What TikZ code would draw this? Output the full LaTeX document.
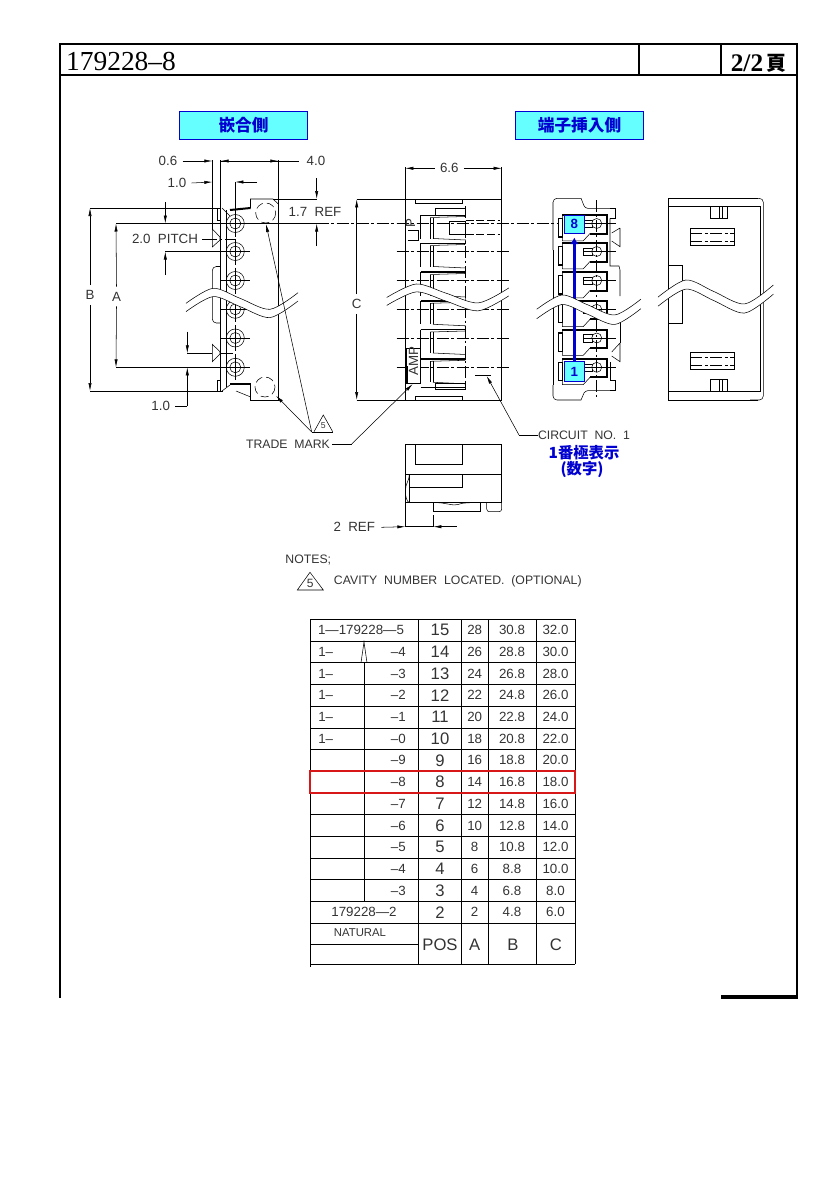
\documentclass[tikz,border=0pt]{standalone}
\usepackage{fontspec}
\usetikzlibrary{arrows.meta,calc}
\setmainfont{Liberation Sans}
\newfontfamily\titlefont{Liberation Serif}
\newfontfamily\cjkfont{Noto Sans CJK JP}
\definecolor{headcyan}{HTML}{66FFFF}
\definecolor{inkblue}{HTML}{0000D0}
\definecolor{markred}{HTML}{D81818}
\definecolor{inkgray}{gray}{0.2}
\newcommand{\breakwave}[5]{%
  \begin{scope}[shift={(#1,#2)},xscale=#3,yscale=#4]
    \fill[white] plot[smooth] coordinates {(0,15) (27,0) (54,10) (84,21) (112,4.4)}
      -- plot[smooth] coordinates {(112,4.4+#5) (84,21+#5) (54,10+#5) (27,0+#5) (0,15+#5)} -- cycle;
    \draw plot[smooth] coordinates {(0,15) (27,0) (54,10) (84,21) (112,4.4)};
    \draw plot[smooth] coordinates {(0,15+#5) (27,0+#5) (54,10+#5) (84,21+#5) (112,4.4+#5)};
  \end{scope}}
\tikzset{
  line width=0.7pt,
  >={Latex[length=6pt,width=2.4pt]},
  cline/.style={line width=0.6pt,dash pattern=on 9pt off 2pt on 2pt off 2pt},
  hvy/.style={line width=1.5pt},
  dimtext/.style={inner sep=0pt,text=inkgray,font=\fontsize{10}{12}\selectfont},
  longtext/.style={inner sep=0pt,text=inkgray,font=\fontsize{9.2}{11}\selectfont},
  cell/.style={inner sep=0pt,text=inkgray,font=\fontsize{10}{12}\selectfont},
  bigcell/.style={inner sep=0pt,text=inkgray,font=\fontsize{12.5}{14}\selectfont},
  headbox/.style={draw=inkblue,fill=headcyan,minimum width=96pt,minimum height=21pt,inner sep=0pt,
    text=inkblue,font=\cjkfont\bfseries\fontsize{12.5}{14}\selectfont},
  bluetext/.style={inner sep=0pt,text=inkblue,font=\cjkfont\bfseries\fontsize{11.5}{13}\selectfont},
  pitchbox/.style={draw=inkblue,fill=headcyan,inner sep=0pt,minimum width=15pt,minimum height=13.5pt,
    text=inkblue,font=\bfseries\fontsize{10}{12}\selectfont}
}
\begin{document}
\begin{tikzpicture}[x=0.75pt,y=-0.75pt]
  \useasboundingbox (0,0) rectangle (835,1181);

  \draw[hvy] (60,998) -- (60,44) -- (797,44) -- (797,998);
  \draw[hvy] (60,75.5) -- (797,75.5);
  \draw[line width=1.2pt] (639,44) -- (639,75.5);
  \draw[line width=1.2pt] (721,44) -- (721,75.5);
  \fill (721,995) rectangle (798,998.5);
  \node[inner sep=0pt,font=\titlefont\fontsize{20.6}{24}\selectfont] (title) at (121,61.5) {179228–8};
  \node[inner sep=0pt,font=\titlefont\bfseries\fontsize{19}{22}\selectfont] (page) at (747,63) {2/2};
  \node[inner sep=0pt,font=\cjkfont\bfseries\fontsize{15}{18}\selectfont] (pageword) at (776,63) {頁};

  \node[headbox] (headfit) at (243.5,125) {嵌合側};
  \node[headbox] (headins) at (579.5,125) {端子挿入側};

  \foreach \c in {223.5,251.5,280.5,309.3,338,367.3} {
    \draw (221,\c) -- (250,\c);
    \draw (235.3,\c-13) -- (235.3,\c+13);
    \draw (235.3,\c) circle (9);
    \draw (235.3,\c) circle (5.5);
    \fill (235.3,\c) circle (0.8);
  }
  \draw (212.3,160) -- (212.3,229);
  \draw (220.7,160) -- (220.7,391);
  \draw (226,210) -- (226,387);
  \draw (278.3,160) -- (278.3,400.7);
  \draw (235.3,182) -- (235.3,214);
  \draw (212.3,229) -- (220,237) -- (220,240) -- (212.3,247) -- cycle;
  \draw (212.3,344.3) -- (220,351.7) -- (220,354) -- (212.3,361.7) -- cycle;
  \draw[rounded corners=3pt] (220.7,266.5) -- (212.3,266.5) -- (212.3,323) -- (220.7,323);
  \draw[cline] (205,239) -- (235.3,239);
  \draw[cline] (220.7,353.3) -- (235.3,353.3);
  \draw (217.3,208) rectangle (220.7,220);
  \draw (217.3,380.7) rectangle (220.7,391);
  \draw (222,208) -- (230,216);
  \draw (222,391) -- (230,385);
  \draw[hvy] (230,210) -- (250.5,208);
  \draw (250.5,208) -- (250.5,199) -- (273,199) -- (278.3,204);
  \draw[hvy] (230,384.3) -- (250.7,384.3);
  \draw (250.7,384.3) -- (250.7,400.7) -- (278.3,400.7);
  \draw (236,391) -- (250.7,397);
  \draw[dash pattern=on 6pt off 3pt] (265.7,213) circle (10);
  \draw[dash pattern=on 6pt off 3pt] (265,387) circle (10);

  \node[dimtext] (dimzerosix) at (168,161) {0.6};
  \node[dimtext] (dimfour) at (316,161) {4.0};
  \node[dimtext] (dimonetop) at (177,183) {1.0};
  \node[dimtext] (dimonelow) at (160.7,406) {1.0};
  \node[dimtext] (dimpitch) at (165,239) {2.0\ \ PITCH};
  \node[dimtext] (dimref) at (315,212) {1.7\ \ REF};
  \node[dimtext] (dimb) at (90,295) {B};
  \node[dimtext] (dima) at (116.5,296.5) {A};
  \draw[->] (dimzerosix.east)++(5,0) -- (212.3,161);
  \draw[->] (278.3,161) -- (220.7,161);
  \draw[->] (220.7,161) -- (278.3,161);
  \draw (278.3,161) -- (299,161);
  \draw[->] (dimonetop.east)++(5,0) -- (212.3,182);
  \draw[->] (257,182) -- (235.3,182);
  \draw (208,239) -- (202,239);
  \draw[->] (165.3,202) -- (165.3,223.5);
  \draw[->] (165.3,275) -- (165.3,251.5);
  \draw (165.3,251.5) -- (226,251.5);
  \draw (273,199) -- (316.7,199);
  \draw[->] (316.7,178) -- (316.7,199);
  \draw[->] (316.7,246) -- (316.7,223.5);
  \draw (116,223.5) -- (316.7,223.5);
  \draw[cline] (316.7,223.5) -- (560,223.5);
  \draw (90,208) -- (221,208);
  \draw (90,391) -- (223,391);
  \draw (116,367.3) -- (226,367.3);
  \draw (187.3,353.3) -- (212,353.3);
  \draw[->] (dimb.north)++(0,-5) -- (90,208);
  \draw[->] (dimb.south)++(0,5) -- (90,391);
  \draw[->] (dima.north)++(0,-5) -- (116,223.5);
  \draw[->] (dima.south)++(0,5) -- (116,367.3);
  \draw[->] (187.3,331.7) -- (187.3,353.3);
  \draw[->] (187.3,406) -- (187.3,367.3);
  \draw (dimonelow.east)++(5,0) -- (187.3,406);
  \breakwave{186}{288.3}{1}{1}{8.3}

  \draw (405.3,167) -- (405.3,400) -- (501.7,400) -- (501.7,167);
  \draw (356.7,199.3) -- (501.7,199.3);
  \draw (356.7,400) -- (405.3,400);
  \draw (415,199.3) rectangle (462.7,203.3);
  \draw (415,396.7) rectangle (462.7,400);
  \draw (435,208.5) rectangle (465.7,215.5);
  \draw (435,383.3) rectangle (465.7,389.5);
  \foreach \c in {223.5,251.5,280.5,309.3,338,367.3} {
    \draw (420.7,\c-8.3) -- (420.7,\c+15);
    \draw (420.7,\c-8.3) -- (465.7,\c-8.3);
    \draw (430.3,\c-6) -- (430.3,\c+15);
    \draw (433,\c-6) -- (433,\c+15);
    \draw (430.3,\c-6) -- (465,\c-7);
    \draw (433,\c+15) -- (465.7,\c+16.5) -- (465.7,\c+20);
    \draw (420.7,\c+20) -- (465.7,\c+20);
    \draw[cline] (396.7,\c) -- (509.3,\c);
  }
  \draw[cline] (465.7,206) -- (465.7,387);
  \draw (449.3,221.7) rectangle (465.7,234.3);
  \draw[dash pattern=on 6pt off 2pt] (465.7,220.7) -- (500,220.7);
  \draw[dash pattern=on 6pt off 2pt] (465.7,234.3) -- (500,234.3);
  \node[cell,rotate=90] (pmark) at (410.5,223) {P};
  \draw (407.5,240.7) -- (418,240.7) -- (418,230) -- (407.5,230);
  \draw[fill=white] (406.7,348.3) rectangle (420,383.3);
  \node[cell,rotate=90] (ampmark) at (413.5,361) {AMP};
  \draw[hvy] (406.7,366) -- (406.7,383.3);
  \node[dimtext] (dimwidth) at (449.3,168.3) {6.6};
  \node[dimtext] (dimc) at (356.7,304) {C};
  \draw[->] (dimwidth.west)++(-5,0) -- (405.3,168.3);
  \draw[->] (dimwidth.east)++(5,0) -- (501.7,168.3);
  \draw[->] (dimc.north)++(0,-5) -- (356.7,199.3);
  \draw[->] (dimc.south)++(0,5) -- (356.7,400);
  \draw (475,375.3) -- (490.7,375.3);
  \breakwave{386.7}{284}{1.09}{0.9}{8.8}

  \draw[rounded corners=3pt] (553,250) -- (553,198.3) -- (581,198.3);
  \draw[rounded corners=2pt] (581,198.3) -- (585,208.3) -- (610,208.3);
  \draw (610,208.3) -- (615,208.3) -- (615,218.3) -- (610,218.3);
  \draw (610,218.3) -- (610,266) -- (619,266) -- (620,270) -- (620,296);
  \draw (611.7,233) -- (620,228) (611.7,241) -- (620,246.7) -- (620,228);
  \draw (553,250) -- (553,385);
  \draw[rounded corners=3pt] (553,385) -- (553,400) -- (581,400);
  \draw[rounded corners=2pt] (581,400) -- (585,390.7) -- (610,390.7);
  \draw (610,390.7) -- (615,390.7) -- (615,380.3) -- (610,380.3);
  \draw (610,380.3) -- (610,361.7);
  \draw (620,318) -- (620,343);
  \draw (611.7,352) -- (620,343) (611.7,356) -- (620,361.7) -- (620,343);
  \foreach \c in {223.5,251.5,280.5,309.3,338,367.3} {
    \draw[line width=1.1pt,fill=white] (558.3,\c-5) rectangle (562.3,\c+13.3);
    \draw (562.3,\c-8.3) -- (562.3,\c+17.3) -- (583.3,\c+17.3) -- (590,\c+10);
    \draw[hvy] (562.3,\c-8.3) -- (607.3,\c-8.3) -- (607.3,\c+10) -- (590,\c+10);
    \draw (583,\c-3.3) rectangle (592,\c+4);
    \draw (583,\c) -- (592,\c);
    \draw[fill=white] (596.7,\c) circle (5);
    \draw (588,\c) -- (616,\c);
  }
  \draw[cline] (596.7,200) -- (596.7,398);
  \node[pitchbox] (boxeight) at (574.3,224.3) {8};
  \node[pitchbox,minimum height=15pt] (boxone) at (574.3,371.7) {1};
  \draw[inkblue,line width=2pt,-{Latex[length=5pt,width=6.5pt]}] (boxone.north) -- ($(boxeight.south)+(0,4)$);
  \breakwave{536.7}{295}{0.93}{0.95}{10}

  \draw (668.3,198.3) -- (758,198.3);
  \draw[rounded corners=3pt] (750,198.3) -- (763.3,198.3) -- (763.3,400) -- (750,400);
  \draw (668.3,400) -- (758,400);
  \draw (668.3,198.3) -- (668.3,400);
  \draw (668.3,206.7) -- (760,206.7) -- (760,391.7) -- (668.3,391.7);
  \draw (710.3,206.7) rectangle (727.7,218.3);
  \draw (710.3,379.3) rectangle (727.7,391.7);
  \draw (719.3,206.7) -- (719.3,218.3) (722.3,206.7) -- (722.3,218.3);
  \draw (719.3,379.3) -- (719.3,391.7) (722.3,379.3) -- (722.3,391.7);
  \draw (690.3,228.3) rectangle (734.7,245.7);
  \draw (690.3,352.3) rectangle (734.7,369.7);
  \draw[cline] (690.3,233.3) -- (734.7,233.3) (690.3,241) -- (734.7,241);
  \draw[cline] (690.3,357.3) -- (734.7,357.3) (690.3,365) -- (734.7,365);
  \draw (668.3,265) -- (682.7,265) -- (682.7,323.3) -- (668.3,323.3);
  \breakwave{658}{280}{1.03}{1.14}{8}

  \draw (314,431.7) -- (323.3,415) -- (332.7,431.7);
  \draw (311.7,431.9) -- (332.7,431.9);
  \node[inner sep=0pt,text=inkgray,font=\fontsize{6.5}{8}\selectfont] (fivemark) at (323.3,425.5) {5};
  \node[longtext] (trademark) at (288,444) {TRADE\ \ MARK};
  \coordinate (tradeapex) at (311.7,432);
  \coordinate (circletop) at (266,224);
  \coordinate (circlelow) at (276,395.7);
  \coordinate (tradebend) at (351.7,444);
  \coordinate (amptip) at (412.7,384);
  \coordinate (circuitbend) at (519,435);
  \coordinate (circuittip) at (486.7,376);
  \draw[->] (tradeapex) -- (circletop);
  \draw[->] (tradeapex) -- (circlelow);
  \draw (trademark.east)++(2,0) -- (tradebend);
  \draw[->] (tradebend) -- (amptip);
  \node[longtext] (circuit) at (584,435) {CIRCUIT\ \ NO.\ \ 1};
  \draw (circuit.west) -- (circuitbend);
  \draw[->] (circuitbend) -- (circuittip);
  \node[bluetext] (bluefirst) at (584,452.7) {1番極表示};
  \node[bluetext] (bluesecond) at (582,470) {(数字)};

  \draw (405.3,444.3) rectangle (501.7,502.7);
  \draw (415.3,444.3) rectangle (462.7,464.3);
  \draw (405.3,474.3) -- (501.7,474.3);
  \draw (409.3,474.3) .. controls (409,482) and (405,484) .. (405.5,491) .. controls (405,496) and (407,502) .. (409.3,502.7);
  \draw (409.3,474.3) -- (409.3,502.7);
  \draw (409.3,487.7) -- (462.7,487.7) -- (462.7,474.3);
  \draw (433.3,502.7) -- (433.3,511.7) -- (480,511.7) -- (480,502.7);
  \draw (433.3,502.7) .. controls (445,502) and (450,506) .. (458,504.5) .. controls (462,503) and (465,503) .. (470,502.7);
  \draw[rounded corners=2pt] (486.7,502.7) -- (486.7,511.7) -- (501.7,511.7) -- (501.7,502.7);
  \draw (405.3,502.7) -- (405.3,526.7);
  \draw (433.3,515) -- (433.3,526.7);
  \node[dimtext] (dimtworef) at (354.3,527.3) {2\ \ REF};
  \draw[->] (dimtworef.east)++(6,0) -- (405.3,526.7);
  \draw[->] (456.7,526.7) -- (433.3,526.7);
  \draw (405.3,526.7) -- (433.3,526.7);

  \node[longtext] (notes) at (308.3,560) {NOTES;};
  \draw (297.3,590) -- (310,572.3) -- (323.3,590) -- cycle;
  \node[inner sep=0pt,text=inkgray,font=\fontsize{9}{11}\selectfont] (fivenote) at (310.3,583.5) {5};
  \node[longtext] (cavity) at (457.8,581.7) {CAVITY\ \ NUMBER\ \ LOCATED.\ \ (OPTIONAL)};

  \foreach \y in {619.3,641,662.7,684.4,706.1,727.8,749.5,771.2,792.9,814.6,836.3,858,879.7,901.4,923.1,964} {
    \draw (310,\y) -- (575,\y);
  }
  \draw (310,944) -- (418,944);
  \draw (310,619.3) -- (310,967);
  \foreach \x in {418,461.5,488,536,575} {
    \draw (\x,619.3) -- (\x,964);
  }
  \draw (364,662.7) -- (364,901.4);
  \draw (364,642) -- (361,662.7) -- (367,662.7) -- cycle;
  \foreach \y/\part/\pos in {
      651.85/4/14, 673.55/3/13, 695.25/2/12, 716.95/1/11, 738.65/0/10, 760.35/9/9,
      782.05/8/8, 803.75/7/7, 825.45/6/6, 847.15/5/5, 868.85/4/4, 890.55/3/3} {
    \node[cell,anchor=east] (part\pos) at (406,\y) {–\part};
  }
  \foreach \y/\pos/\ca/\cb/\cc in {
      630.15/15/28/30.8/32.0, 651.85/14/26/28.8/30.0, 673.55/13/24/26.8/28.0, 695.25/12/22/24.8/26.0,
      716.95/11/20/22.8/24.0, 738.65/10/18/20.8/22.0, 760.35/9/16/18.8/20.0,
      782.05/8/14/16.8/18.0, 803.75/7/12/14.8/16.0, 825.45/6/10/12.8/14.0,
      847.15/5/8/10.8/12.0, 868.85/4/6/8.8/10.0, 890.55/3/4/6.8/8.0, 912.25/2/2/4.8/6.0} {
    \node[bigcell] (pos\pos) at (440,\y) {\pos};
    \node[cell] (circ\pos) at (474.7,\y) {\ca};
    \node[cell] (lenb\pos) at (512,\y) {\cb};
    \node[cell] (lenc\pos) at (555.5,\y) {\cc};
  }
  \foreach \y/\pos in {651.85/14,673.55/13,695.25/12,716.95/11,738.65/10} {
    \node[cell,anchor=west] (pre\pos) at (318,\y) {1–};
  }
  \node[cell] (partfirst) at (361,630.15) {1—179228—5};
  \node[cell] (partlast) at (364,912.25) {179228—2};
  \node[cell,font=\fontsize{8.5}{10}\selectfont] (natural) at (360,933) {NATURAL};
  \node[bigcell] (headpos) at (440,945) {POS};
  \node[bigcell] (heada) at (474.7,945) {A};
  \node[bigcell] (headb) at (513,945) {B};
  \node[bigcell] (headc) at (556,945) {C};
  \draw[markred,line width=1.5pt] (310,771.2) rectangle (575,792.9);
\end{tikzpicture}
\end{document}
